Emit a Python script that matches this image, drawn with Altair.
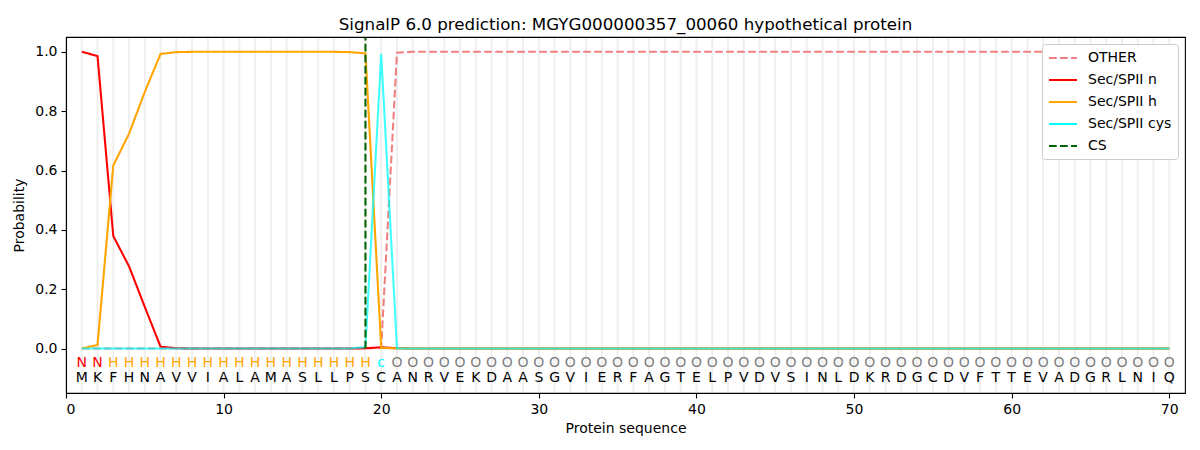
import altair as alt
import pandas as pd

# ---------------- data ----------------
positions = list(range(1, 71))
sequence = list("MKFHNAVVIALAMASLLPSCANRVEKDAASGVIERFAGTELPVDVSINLDKRDGCDVFTTEVADGRLNIQ")
region_labels = list("NNHHHHHHHHHHHHHHHHHcOOOOOOOOOOOOOOOOOOOOOOOOOOOOOOOOOOOOOOOOOOOOOOOOOO")

other = [
    0.0, 0.0, 0.0, 0.0, 0.0, 0.0, 0.0, 0.0, 0.0, 0.0,
    0.0, 0.0, 0.0, 0.0, 0.0, 0.0, 0.0, 0.0, 0.0, 0.003,
    0.997, 1.0, 1.0, 1.0, 1.0, 1.0, 1.0, 1.0, 1.0, 1.0,
    1.0, 1.0, 1.0, 1.0, 1.0, 1.0, 1.0, 1.0, 1.0, 1.0,
    1.0, 1.0, 1.0, 1.0, 1.0, 1.0, 1.0, 1.0, 1.0, 1.0,
    1.0, 1.0, 1.0, 1.0, 1.0, 1.0, 1.0, 1.0, 1.0, 1.0,
    1.0, 1.0, 1.0, 1.0, 1.0, 1.0, 1.0, 1.0, 1.0, 1.0,
]
sec_n = [
    1.0, 0.986, 0.379, 0.277, 0.14, 0.006, 0.001, 0.0, 0.0, 0.0,
    0.0, 0.0, 0.0, 0.0, 0.0, 0.0, 0.0, 0.0, 0.001, 0.004,
    0.001, 0.0, 0.0, 0.0, 0.0, 0.0, 0.0, 0.0, 0.0, 0.0,
    0.0, 0.0, 0.0, 0.0, 0.0, 0.0, 0.0, 0.0, 0.0, 0.0,
    0.0, 0.0, 0.0, 0.0, 0.0, 0.0, 0.0, 0.0, 0.0, 0.0,
    0.0, 0.0, 0.0, 0.0, 0.0, 0.0, 0.0, 0.0, 0.0, 0.0,
    0.0, 0.0, 0.0, 0.0, 0.0, 0.0, 0.0, 0.0, 0.0, 0.0,
]
sec_h = [
    0.0, 0.012, 0.617, 0.724, 0.865, 0.993, 0.999, 1.0, 1.0, 1.0,
    1.0, 1.0, 1.0, 1.0, 1.0, 1.0, 1.0, 0.999, 0.995, 0.002,
    0.0, 0.0, 0.0, 0.0, 0.0, 0.0, 0.0, 0.0, 0.0, 0.0,
    0.0, 0.0, 0.0, 0.0, 0.0, 0.0, 0.0, 0.0, 0.0, 0.0,
    0.0, 0.0, 0.0, 0.0, 0.0, 0.0, 0.0, 0.0, 0.0, 0.0,
    0.0, 0.0, 0.0, 0.0, 0.0, 0.0, 0.0, 0.0, 0.0, 0.0,
    0.0, 0.0, 0.0, 0.0, 0.0, 0.0, 0.0, 0.0, 0.0, 0.0,
]
sec_cys = [
    0.0, 0.0, 0.0, 0.0, 0.0, 0.0, 0.0, 0.0, 0.0, 0.0,
    0.0, 0.0, 0.0, 0.0, 0.0, 0.0, 0.0, 0.0, 0.005, 0.993,
    0.0, 0.0, 0.0, 0.0, 0.0, 0.0, 0.0, 0.0, 0.0, 0.0,
    0.0, 0.0, 0.0, 0.0, 0.0, 0.0, 0.0, 0.0, 0.0, 0.0,
    0.0, 0.0, 0.0, 0.0, 0.0, 0.0, 0.0, 0.0, 0.0, 0.0,
    0.0, 0.0, 0.0, 0.0, 0.0, 0.0, 0.0, 0.0, 0.0, 0.0,
    0.0, 0.0, 0.0, 0.0, 0.0, 0.0, 0.0, 0.0, 0.0, 0.0,
]
cs_position = [19]

series_names = ["OTHER", "Sec/SPII n", "Sec/SPII h", "Sec/SPII cys", "CS"]
series_colors = ["#f08080", "#ff0000", "#ffa500", "#00ffff", "#006400"]
series_dashes = [[7.7, 3.3], [1, 0], [1, 0], [1, 0], [7.7, 3.3]]
label_colors = {"N": "#ff0000", "H": "#ffa500", "c": "#00ffff", "O": "#808080"}
x_ticks = [0, 10, 20, 30, 40, 50, 60, 70]
y_ticks = [0.0, 0.2, 0.4, 0.6, 0.8, 1.0]

# ---------------- tables ----------------
rows = []
for name, vals in zip(series_names[:4], [other, sec_n, sec_h, sec_cys]):
    for p, v in zip(positions, vals):
        rows.append({"pos": p, "prob": v, "series": name})
lines_df = pd.DataFrame(rows)
seq_df = pd.DataFrame({"pos": positions, "aa": sequence, "lab": region_labels,
                       "y_lab": [-0.05] * len(positions), "y_aa": [-0.10] * len(positions)})
cs_df = pd.DataFrame({"pos": cs_position, "series": ["CS"] * len(cs_position)})

W, H = 1119, 356
FONT = "DejaVu Sans"

xenc = alt.X("pos:Q", scale=alt.Scale(domain=[0, 71], nice=False, zero=False),
             axis=alt.Axis(values=x_ticks, title="Protein sequence", grid=False, format="d"))
yscale = alt.Scale(domain=[-0.15, 1.05], nice=False, zero=False)
yenc = alt.Y("prob:Q", scale=yscale,
             axis=alt.Axis(values=y_ticks, title="Probability", grid=False, format=".1f"))

legend = alt.Legend(title=None, orient="top-right", offset=7,
                    symbolType="M-1,0H3", symbolSize=196, symbolStrokeWidth=2,
                    symbolFillColor="transparent", labelOffset=24,
                    labelFontSize=14, labelFont=FONT, rowPadding=7, padding=6,
                    strokeColor="#cccccc", fillColor="white", cornerRadius=3)
color_enc = alt.Color("series:N", scale=alt.Scale(domain=series_names, range=series_colors),
                      sort=series_names, legend=legend)
dash_enc = alt.StrokeDash("series:N", scale=alt.Scale(domain=series_names, range=series_dashes),
                          sort=series_names, legend=legend)

grid = alt.Chart(seq_df).mark_rule(color="#efefef", strokeWidth=2).encode(
    x=xenc, y=alt.value(1), y2=alt.value(H - 1))

layers = [grid]
opac = {"OTHER": 1.0, "Sec/SPII n": 1.0, "Sec/SPII h": 1.0, "Sec/SPII cys": 0.75}
for name in series_names[:4]:
    layers.append(
        alt.Chart(lines_df).transform_filter(alt.datum.series == name)
        .mark_line(strokeWidth=2.08, opacity=opac[name])
        .encode(x=xenc, y=yenc, color=color_enc, strokeDash=dash_enc)
    )

cs_rule = alt.Chart(cs_df).mark_rule(strokeWidth=2.08).encode(
    x=xenc, y=alt.datum(0, scale=yscale), y2=alt.value(1), color=color_enc, strokeDash=dash_enc)
layers.append(cs_rule)

for lab, col in label_colors.items():
    layers.append(
        alt.Chart(seq_df).transform_filter(alt.datum.lab == lab)
        .mark_text(fontSize=14, font=FONT, color=col, baseline="middle", align="center")
        .encode(x=xenc, y=alt.Y("y_lab:Q", scale=yscale), text="lab:N")
    )
layers.append(
    alt.Chart(seq_df).mark_text(fontSize=14, font=FONT, color="black", baseline="middle", align="center")
    .encode(x=xenc, y=alt.Y("y_aa:Q", scale=yscale), text="aa:N")
)

chart = alt.layer(*layers).properties(
    width=W, height=H,
    title=alt.Title("SignalP 6.0 prediction: MGYG000000357_00060 hypothetical protein",
                    fontSize=16.7, font=FONT, fontWeight="normal", anchor="middle",
                    offset=3, color="black"),
    padding={"left": 58, "top": 29, "right": 6, "bottom": 48},
    autosize=alt.AutoSizeParams(type="none"),
).configure_view(stroke="black", strokeWidth=1.1).configure_axis(
    domainColor="black", domainWidth=1.1, tickColor="black", tickWidth=1.1, tickSize=5,
    labelColor="black", labelFontSize=14, labelFont=FONT, labelPadding=4,
    titleFontSize=14, titleFont=FONT, titleFontWeight="normal", titleColor="black",
).configure_axisX(titlePadding=5).configure_axisY(titlePadding=8)

chart.save("out.html", embed_options={"renderer": "svg", "actions": False})
